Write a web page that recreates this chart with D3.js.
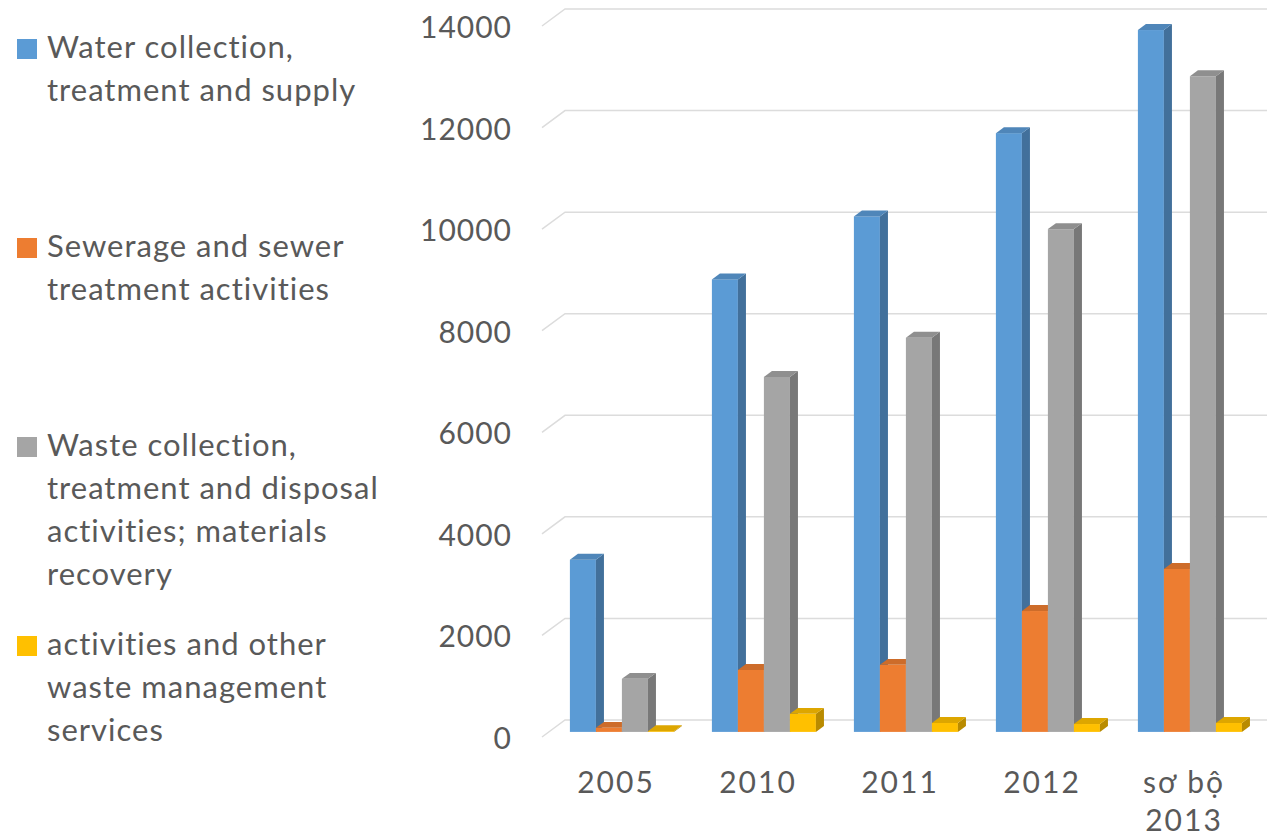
<!DOCTYPE html>
<html><head><meta charset="utf-8">
<script src="https://cdn.jsdelivr.net/npm/d3@7"></script>
<style>
body{margin:0;background:#fff}
svg{display:block}
text{font-family:Lato,"Open Sans",sans-serif;fill:#595959}
</style>
</head><body>
<svg id="chart" width="1267" height="837"></svg>
<script>
// ---- data ----
const categories = ["2005", "2010", "2011", "2012", "sơ bộ\n2013"];
const seriesNames = [
  "Water collection,\ntreatment and supply",
  "Sewerage and sewer\ntreatment activities",
  "Waste collection,\ntreatment and disposal\nactivities; materials\nrecovery",
  "activities and other\nwaste management\nservices"
];
const waterSupply   = [3390, 8910, 10150, 11790, 13820];
const sewerage      = [80, 1220, 1320, 2380, 3210];
const wasteCollect  = [1045, 6990, 7760, 9900, 12910];
const otherServices = [15, 355, 175, 155, 175];
const yTicks = [0, 2000, 4000, 6000, 8000, 10000, 12000, 14000];
const colors = ["#5B9BD5", "#ED7D31", "#A5A5A5", "#FFC000"];

const seriesValues = [waterSupply, sewerage, wasteCollect, otherServices];

// ---- layout ----
const svg = d3.select("#chart");
const floorX0 = 542, floorX1 = 542 + 142 * categories.length;
const DX = 23, DY = 17;            // depth vector (front -> back)
const zFront = 0.3, zBack = 0.65;  // bar depth span

const y = d3.scaleLinear().domain([0, 14000]).range([737, 26]);
const x = d3.scaleBand().domain(d3.range(categories.length)).range([floorX0, floorX1]).padding(0);
const xs = d3.scaleBand().domain(d3.range(seriesValues.length)).range([21, 125]).padding(0);

const P = (px, v, z) => [px + z * DX, y(v) - z * DY];
const poly = pts => pts.map(p => p.join(",")).join(" ");

// gridlines
const grid = svg.append("g");
yTicks.forEach(t => {
  const a = P(floorX0, t, 0), b = P(floorX0, t, 1), c = P(floorX1, t, 1);
  grid.append("polyline")
    .attr("points", poly([a, b, c]))
    .attr("fill", "none").attr("stroke", "#dcdcdc").attr("stroke-width", 1.5);
});

// y tick labels
svg.append("g").selectAll("text").data(yTicks).join("text")
  .attr("x", 512).attr("y", d => y(d))
  .attr("text-anchor", "end").attr("dominant-baseline", "central")
  .attr("font-size", 30).attr("letter-spacing", 1).text(d => d);

// bars
const bars = svg.append("g");
categories.forEach((c, i) => {
  seriesValues.forEach((vals, s) => {
    const v = vals[i];
    const x0 = x(i) + xs(s), x1 = x0 + xs.bandwidth();
    const col = d3.color(colors[s]);
    const topCol = col.darker(0.4), sideCol = col.darker(0.9);
    const g = bars.append("g");
    const f0 = P(x0, v, zFront), f1 = P(x1, 0, zFront);
    g.append("rect").attr("x", f0[0]).attr("y", f0[1])
      .attr("width", f1[0] - f0[0]).attr("height", Math.max(0, f1[1] - f0[1]))
      .attr("fill", col);
    g.append("polygon").attr("points", poly([P(x1, 0, zFront), P(x1, 0, zBack), P(x1, v, zBack), P(x1, v, zFront)]))
      .attr("fill", sideCol);
    g.append("polygon").attr("points", poly([P(x0, v, zFront), P(x1, v, zFront), P(x1, v, zBack), P(x0, v, zBack)]))
      .attr("fill", topCol);
  });
});

// category labels
const catG = svg.append("g");
categories.forEach((c, i) => {
  const cx = x(i) + x.bandwidth() / 2 + 3;
  const t = catG.append("text")
    .attr("x", cx).attr("y", 793)
    .attr("text-anchor", "middle").attr("font-size", 30).attr("letter-spacing", 2);
  c.split("\n").forEach((line, k) => {
    t.append("tspan").attr("x", cx)
      .attr("dy", k === 0 ? 0 : 38).text(line);
  });
});

// legend
const leg = svg.append("g");
seriesNames.forEach((name, s) => {
  const base = 58 + s * 199;
  leg.append("rect").attr("x", 17).attr("y", base - 19).attr("width", 20).attr("height", 20)
    .attr("fill", colors[s]);
  const t = leg.append("text").attr("x", 47).attr("y", base).attr("font-size", 31).attr("letter-spacing", 1);
  name.split("\n").forEach((line, k) => {
    t.append("tspan").attr("x", 47).attr("dy", k === 0 ? 0 : 43).text(line);
  });
});
</script>
</body></html>
